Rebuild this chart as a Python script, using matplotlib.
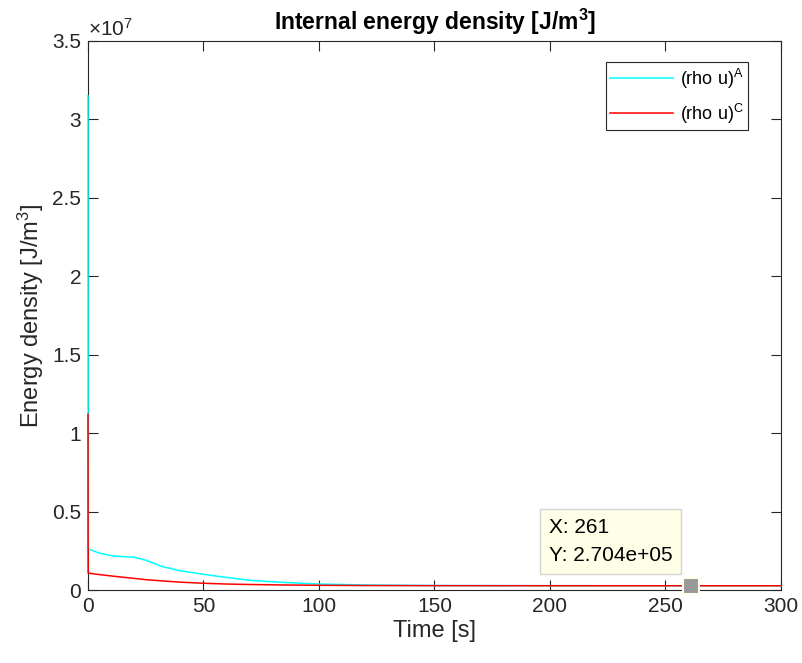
import matplotlib.pyplot as plt
import numpy as np
from matplotlib.ticker import FuncFormatter

plt.rcParams['font.family'] = ['Liberation Sans', 'DejaVu Sans']
plt.rcParams['mathtext.fontset'] = 'custom'
plt.rcParams['mathtext.rm'] = 'Liberation Sans'
plt.rcParams['mathtext.it'] = 'Liberation Sans:italic'
plt.rcParams['mathtext.bf'] = 'Liberation Sans:bold'

# data
time = [0, 0.05, 5, 11, 16, 20, 25, 32, 40, 50, 60, 70, 85, 100, 120, 150, 200, 261, 300]
rho_u_A = [3.15e7, 2.62e6, 2.35e6, 2.17e6, 2.12e6, 2.09e6, 1.90e6, 1.50e6, 1.22e6, 1.00e6,
           0.80e6, 0.62e6, 0.48e6, 0.38e6, 0.32e6, 0.285e6, 0.273e6, 0.2704e6, 0.270e6]
rho_u_C = [1.12e7, 1.08e6, 0.98e6, 0.88e6, 0.80e6, 0.74e6, 0.66e6, 0.58e6, 0.50e6, 0.43e6,
           0.38e6, 0.35e6, 0.32e6, 0.30e6, 0.285e6, 0.276e6, 0.272e6, 0.2704e6, 0.2703e6]
tip_x = 261
tip_y = 2.704e5

dark = '#262626'

fig = plt.figure(figsize=(8.03, 6.63), dpi=100)
ax = fig.add_axes([88 / 803, 73 / 663, 693 / 803, 549 / 663])

ax.plot(time, rho_u_A, color='cyan', lw=1.1, label=r'(rho u)$^{\mathrm{A}}$',
        zorder=3, clip_on=False)
ax.plot(time, rho_u_C, color='red', lw=1.1, label=r'(rho u)$^{\mathrm{C}}$',
        zorder=3, clip_on=False)

ax.set_xlim(0, 300)
ax.set_ylim(0, 3.5e7)
ax.set_xticks(np.arange(0, 301, 50))
ax.set_yticks(np.arange(0, 3.51e7, 0.5e7))
ax.yaxis.set_major_formatter(FuncFormatter(lambda v, p: '%g' % (v / 1e7)))

ax.tick_params(direction='in', length=7, width=0.8, colors=dark, labelsize=15,
               top=True, right=True, pad=5)
for s in ax.spines.values():
    s.set_color(dark)
    s.set_linewidth(0.8)

ax.text(0.0, 1.003, r'$\times 10^{7}$', transform=ax.transAxes, fontsize=15,
        color=dark, ha='left', va='bottom')

ax.set_xlabel('Time [s]', fontsize=17, color=dark, labelpad=3)
ax.set_ylabel(r'Energy density [J/m$^{3}$]', fontsize=17, color=dark, labelpad=4)
ax.set_title(r'Internal energy density [J/m$^{\mathbf{3}}$]', fontsize=16.5,
             fontweight='bold', color='black', pad=8)

leg = ax.legend(loc='upper right', bbox_to_anchor=(748 / 803, 1 - 62 / 663),
                bbox_transform=fig.transFigure, borderaxespad=0,
                fontsize=13, fancybox=False, handlelength=3.5, handletextpad=0.35,
                labelspacing=0.6, borderpad=0.25, framealpha=1)
leg.get_frame().set_edgecolor(dark)
leg.get_frame().set_linewidth(0.8)

# datatip
ax.plot([tip_x], [tip_y], marker='s', ms=12, color='#999999', mec='#ffffe8', mew=1.5,
        zorder=5, clip_on=False)
ax.annotate('X: %d\nY: %.3e' % (tip_x, tip_y),
            xy=(tip_x, tip_y), xytext=(-142, 21), textcoords='offset pixels',
            ha='left', va='bottom', fontsize=15, color='black', linespacing=1.6,
            bbox=dict(boxstyle='square,pad=0.42', fc='#ffffe8', ec='#d4d4d4', lw=1))

fig.savefig('out.png', dpi=100)
